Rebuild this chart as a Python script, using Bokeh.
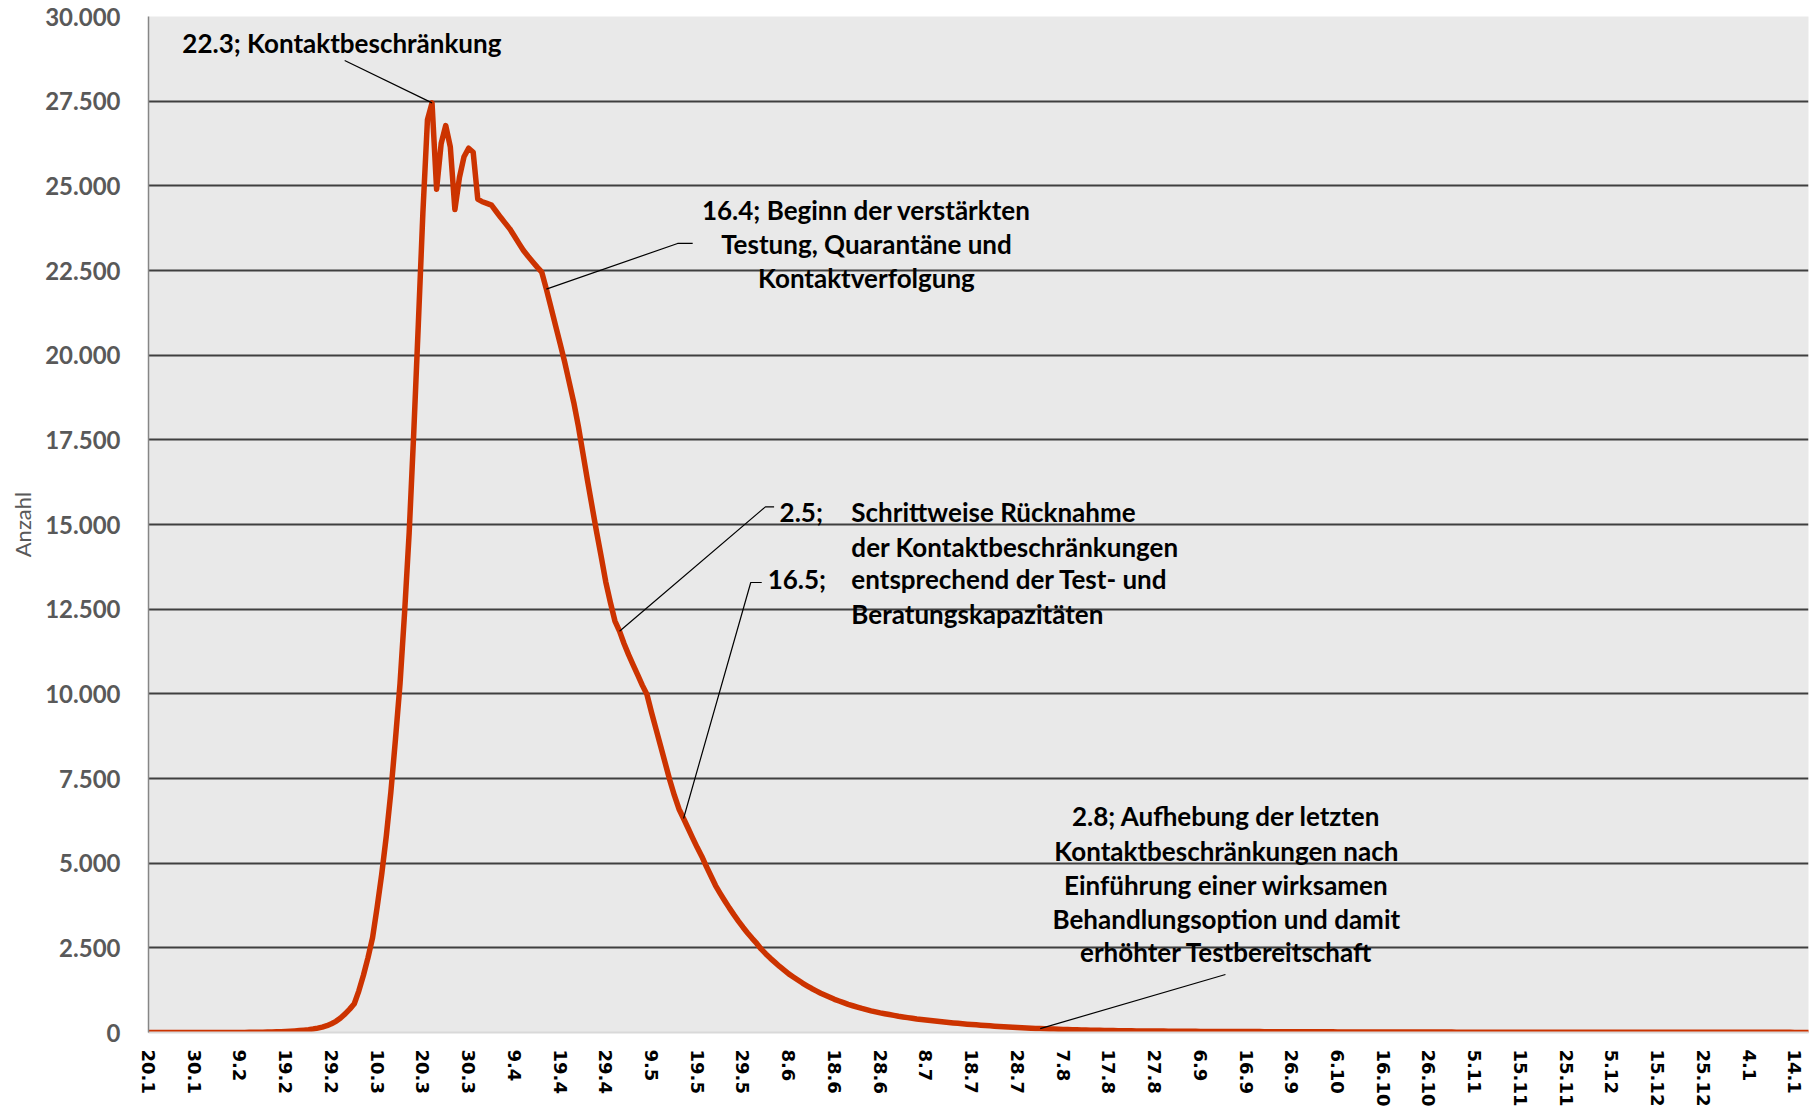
from bokeh.plotting import figure
from bokeh.models import Range1d, FixedTicker, Label
from bokeh.embed import file_html
from bokeh.resources import INLINE

# Daily counts from 20.1 (day 0) to 17.1 of the following year (day 363)
daily_counts = [
    0, 0, 0, 0, 0, 0, 0, 0, 0, 0,
    0, 0, 0, 0, 0, 1, 1, 1, 2, 2,
    2, 3, 4, 5, 7, 9, 12, 16, 20, 25,
    31, 38, 47, 57, 70, 85, 105, 130, 160, 200,
    260, 330, 430, 550, 690, 850, 1230, 1690, 2210, 2800,
    3700, 4680, 5800, 7100, 8650, 10300, 12400, 14750, 17700, 20900,
    24200, 26950, 27450, 24900, 26250, 26780, 26150, 24300, 25250, 25860,
    26110, 25990, 24610, 24530, 24480, 24430, 24250, 24070, 23900, 23730,
    23520, 23300, 23090, 22920, 22760, 22600, 22450, 21950, 21420, 20880,
    20350, 19800, 19200, 18600, 17900, 17100, 16300, 15530, 14770, 14050,
    13300, 12700, 12150, 11850, 11480, 11150, 10850, 10550, 10250, 9980,
    9450, 8950, 8450, 7950, 7450, 7000, 6600, 6320, 6030, 5740,
    5460, 5200, 4900, 4620, 4340, 4110, 3890, 3680, 3480, 3290,
    3110, 2940, 2780, 2630, 2460, 2320, 2190, 2070, 1950, 1840,
    1730, 1640, 1550, 1460, 1380, 1300, 1230, 1160, 1100, 1040,
    980, 930, 880, 830, 790, 750, 710, 675, 640, 610,
    580, 555, 530, 505, 480, 460, 440, 420, 400, 385,
    368, 352, 337, 322, 308, 295, 282, 270, 258, 247,
    236, 226, 216, 206, 197, 188, 179, 170, 162, 155,
    148, 141, 134, 127, 121, 115, 110, 105, 100, 95,
    90, 86, 82, 78, 75, 72, 69, 66, 63, 61,
    59, 57, 55, 53, 51, 49, 47, 46, 45, 44,
    43, 42, 41, 40, 39, 38, 37, 36, 35, 34,
    33, 32, 31, 31, 30, 30, 29, 29, 28, 28,
    27, 27, 26, 26, 25, 25, 24, 24, 23, 23,
    22, 22, 21, 21, 20, 20, 20, 19, 19, 19,
    18, 18, 18, 17, 17, 17, 16, 16, 16, 15,
    15, 15, 15, 14, 14, 14, 14, 13, 13, 13,
    13, 12, 12, 12, 12, 12, 11, 11, 11, 11,
    11, 10, 10, 10, 10, 10, 10, 9, 9, 9,
    9, 9, 9, 8, 8, 8, 8, 8, 8, 8,
    8, 7, 7, 7, 7, 7, 7, 7, 7, 7,
    6, 6, 6, 6, 6, 6, 6, 6, 6, 6,
    6, 5, 5, 5, 5, 5, 5, 5, 5, 5,
    5, 5, 5, 5, 4, 4, 4, 4, 4, 4,
    4, 4, 4, 4, 4, 4, 4, 4, 4, 4,
    3, 3, 3, 3,
]
days = list(range(len(daily_counts)))

# Category labels, one every ten days
x_tick_days = list(range(0, 361, 10))
x_tick_labels = [
    "20.1", "30.1", "9.2", "19.2", "29.2", "10.3", "20.3", "30.3", "9.4",
    "19.4", "29.4", "9.5", "19.5", "29.5", "8.6", "18.6", "28.6", "8.7",
    "18.7", "28.7", "7.8", "17.8", "27.8", "6.9", "16.9", "26.9", "6.10",
    "16.10", "26.10", "5.11", "15.11", "25.11", "5.12", "15.12", "25.12",
    "4.1", "14.1",
]
y_ticks = [0, 2500, 5000, 7500, 10000, 12500, 15000, 17500, 20000,
           22500, 25000, 27500, 30000]
y_tick_labels = ["0", "2.500", "5.000", "7.500", "10.000", "12.500",
                 "15.000", "17.500", "20.000", "22.500", "25.000",
                 "27.500", "30.000"]

# Measures: day index of each event
event_days = {"22.3": 62, "16.4": 87, "2.5": 103, "16.5": 117, "2.8": 195}

LINE_COLOR = "#CC3300"
FONT = "Lato"

p = figure(width=1816, height=1109, output_backend="svg", toolbar_location=None,
           x_range=Range1d(0, 363), y_range=Range1d(0, 30000),
           min_border_left=148, min_border_right=8, min_border_top=16,
           min_border_bottom=77)
p.background_fill_color = "#E9E9E9"
p.border_fill_color = "white"
p.outline_line_color = None

# Axes
p.yaxis.ticker = FixedTicker(ticks=y_ticks)
p.yaxis.major_label_overrides = {t: s for t, s in zip(y_ticks, y_tick_labels)}
p.yaxis.major_label_text_font = FONT
p.yaxis.major_label_text_font_style = "bold"
p.yaxis.major_label_text_font_size = "24px"
p.yaxis.major_label_text_color = "#595959"
p.yaxis.major_label_standoff = 28
p.yaxis.major_tick_in = 0
p.yaxis.major_tick_out = 0
p.yaxis.minor_tick_in = 0
p.yaxis.minor_tick_out = 0
p.yaxis.major_tick_line_color = None
p.yaxis.minor_tick_line_color = None
p.yaxis.axis_line_color = "#868686"
p.yaxis.axis_line_width = 1.5
p.yaxis.axis_label = "Anzahl"
p.yaxis.axis_label_text_font = FONT
p.yaxis.axis_label_text_font_style = "normal"
p.yaxis.axis_label_text_font_size = "22px"
p.yaxis.axis_label_text_color = "#595959"
p.yaxis.axis_label_standoff = 6

p.xaxis.ticker = FixedTicker(ticks=x_tick_days)
p.xaxis.major_label_overrides = {d: s for d, s in zip(x_tick_days, x_tick_labels)}
p.xaxis.major_label_orientation = "vertical"
p.xaxis.major_label_text_font = "DejaVu Sans"
p.xaxis.major_label_text_font_style = "bold"
p.xaxis.major_label_text_font_size = "18px"
p.xaxis.major_label_text_color = "black"
p.xaxis.major_label_standoff = 17
p.xaxis.major_tick_in = 0
p.xaxis.major_tick_out = 0
p.xaxis.minor_tick_in = 0
p.xaxis.minor_tick_out = 0
p.xaxis.major_tick_line_color = None
p.xaxis.minor_tick_line_color = None
p.xaxis.axis_line_color = "#D9D9D9"
p.xaxis.axis_line_width = 2

# Grid
p.xgrid.grid_line_color = None
p.ygrid.ticker = FixedTicker(ticks=y_ticks[1:])
p.ygrid.grid_line_color = "#3F3F3F"
p.ygrid.grid_line_width = 2

# Series
p.line(days, daily_counts, line_color=LINE_COLOR, line_width=5.5,
       line_join="round", line_cap="round")


def value_at(label):
    d = event_days[label]
    return d, daily_counts[d]


def leader(label, path):
    d, v = value_at(label)
    xs = [d] + [pt[0] for pt in path]
    ys = [v] + [pt[1] for pt in path]
    p.line(xs, ys, line_color="black", line_width=1.2)


def text(x, y, s, align="left"):
    p.add_layout(Label(x=x, y=y, text=s, text_font=FONT, text_font_style="bold",
                       text_font_size="26px", text_color="black",
                       text_align=align, text_baseline="middle"))


# 22.3
leader("22.3", [(42.9, 28700)])
text(7.4, 29230, "22.3; Kontaktbeschränkung")

# 16.4
leader("16.4", [(115.7, 23298), (119.0, 23298)])
for y, s in zip([24284, 23292, 22264],
                ["16.4; Beginn der verstärkten", "Testung, Quarantäne und",
                 "Kontaktverfolgung"]):
    text(157.0, y, s, "center")

# 2.5 and 16.5
leader("2.5", [(134.9, 15520), (136.8, 15520)])
text(138.0, 15380, "2.5;")
leader("16.5", [(131.7, 13288), (134.1, 13288)])
text(135.4, 13376, "16.5;")
for y, s in zip([15380, 14340, 13376, 12343],
                ["Schrittweise Rücknahme", "der Kontaktbeschränkungen",
                 "entsprechend der Test- und", "Beratungskapazitäten"]):
    text(153.7, y, s)

# 2.8
leader("2.8", [(235.5, 1713)])
for y, s in zip([6402, 5374, 4349, 3357, 2365],
                ["2.8; Aufhebung der letzten", "Kontaktbeschränkungen nach",
                 "Einführung einer wirksamen", "Behandlungsoption und damit",
                 "erhöhter Testbereitschaft"]):
    text(235.7, y, s, "center")

open("out.html", "w").write(file_html(p, INLINE))
